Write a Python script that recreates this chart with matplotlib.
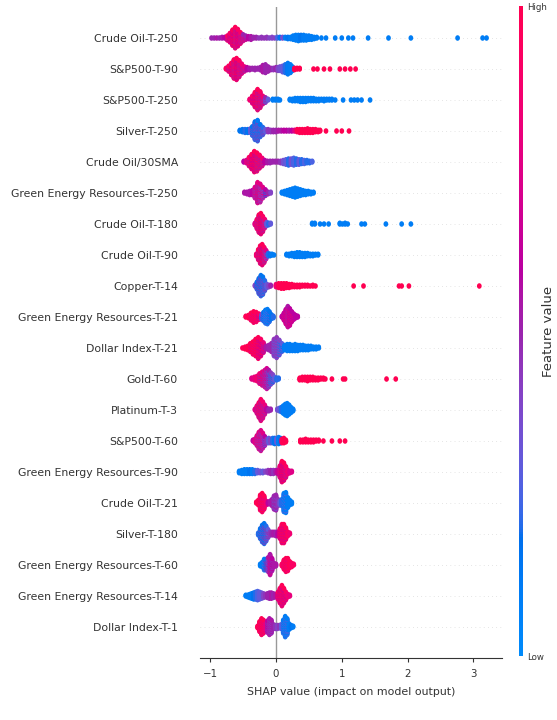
import numpy as np
import matplotlib
matplotlib.use("Agg")
import matplotlib.pyplot as plt
from matplotlib.colors import LinearSegmentedColormap
from matplotlib.path import Path

# ---------------- data (top row first) ----------------
features = ["Crude Oil-T-250", "S&P500-T-90", "S&P500-T-250", "Silver-T-250",
            "Crude Oil/30SMA", "Green Energy Resources-T-250", "Crude Oil-T-180",
            "Crude Oil-T-90", "Copper-T-14", "Green Energy Resources-T-21",
            "Dollar Index-T-21", "Gold-T-60", "Platinum-T-3", "S&P500-T-60",
            "Green Energy Resources-T-90", "Crude Oil-T-21", "Silver-T-180",
            "Green Energy Resources-T-60", "Green Energy Resources-T-14",
            "Dollar Index-T-1"]

x_ticks = [-1, 0, 1, 2, 3]

# each entry: (SHAP value, number of samples, feature value 0=low..1=high)
crude_oil_t250 = [
    (-0.98, 1, .5), (-0.94, 1, .5), (-0.90, 1, .55), (-0.86, 1, .5), (-0.82, 2, .55), (-0.78, 2, .6),
    (-0.74, 4, .92), (-0.74, 3, .55), (-0.70, 8, .92), (-0.70, 6, .6), (-0.66, 14, .97), (-0.66, 10, .6),
    (-0.62, 18, .97), (-0.62, 14, .55), (-0.58, 14, .92), (-0.58, 12, .6), (-0.54, 9, .92), (-0.54, 8, .55),
    (-0.50, 5, .85), (-0.50, 5, .5), (-0.46, 3, .75), (-0.46, 3, .5), (-0.42, 4, .6), (-0.38, 5, .55),
    (-0.34, 2, .5), (-0.30, 2, .5), (-0.26, 1, .45), (-0.22, 2, .45), (-0.18, 1, .45), (-0.14, 2, .45),
    (-0.10, 1, .4), (-0.06, 2, .4), (-0.02, 1, .4),
    (0.02, 2, .25), (0.06, 2, .15), (0.10, 2, .35), (0.14, 2, .1), (0.18, 3, .15), (0.22, 3, .1),
    (0.26, 6, .1), (0.30, 8, .1), (0.34, 9, .1), (0.38, 8, .15), (0.42, 8, .1), (0.46, 7, .1),
    (0.50, 6, .1), (0.54, 5, .1), (0.58, 3, .1), (0.62, 2, .1),
    (0.69, 1, .1), (0.76, 1, .1), (0.90, 1, .1), (1.00, 1, .1), (1.10, 1, .1), (1.17, 1, .1),
    (1.40, 1, .1), (1.71, 1, .1), (2.05, 1, .1), (2.76, 1, .1), (3.14, 1, .1), (3.20, 1, .1)]

sp500_t90 = [
    (-0.76, 2, .92), (-0.72, 5, .92), (-0.72, 3, .55), (-0.68, 10, .97), (-0.68, 7, .6),
    (-0.64, 15, .97), (-0.64, 12, .55), (-0.60, 17, .97), (-0.60, 14, .6), (-0.56, 13, .92), (-0.56, 11, .55),
    (-0.52, 8, .85), (-0.52, 6, .55), (-0.48, 4, .8), (-0.48, 3, .5), (-0.44, 4, .6), (-0.40, 3, .55),
    (-0.36, 2, .5), (-0.32, 3, .5), (-0.28, 2, .5), (-0.24, 4, .5), (-0.20, 10, .55), (-0.16, 12, .5),
    (-0.12, 7, .5), (-0.08, 3, .5), (-0.04, 3, .45), (0.00, 4, .5), (0.03, 5, .4),
    (0.06, 6, .35), (0.10, 9, .3), (0.14, 12, .2), (0.18, 16, .12), (0.22, 12, .1), (0.25, 6, .1),
    (0.28, 3, 1.0), (0.32, 2, 1.0), (0.36, 2, 1.0), (0.57, 1, 1.0), (0.63, 1, 1.0), (0.73, 1, 1.0),
    (0.82, 1, 1.0), (0.97, 1, 1.0), (1.05, 1, 1.0), (1.13, 1, 1.0), (1.21, 1, 1.0)]

sp500_t250 = [
    (-0.40, 2, .85), (-0.36, 6, .92), (-0.36, 4, .6), (-0.32, 12, .97), (-0.32, 8, .6),
    (-0.28, 16, .97), (-0.28, 12, .55), (-0.24, 12, .92), (-0.24, 10, .55), (-0.20, 6, .85), (-0.20, 5, .5),
    (-0.16, 4, .5), (-0.16, 3, .3), (-0.12, 2, .3),
    (-0.05, 2, .1), (-0.01, 2, .1), (0.03, 2, .1), (0.06, 1, .1), (0.21, 2, .1), (0.25, 3, .1),
    (0.29, 4, .1), (0.33, 4, .1), (0.37, 5, .1), (0.41, 5, .1), (0.45, 5, .1), (0.49, 4, .1),
    (0.53, 4, .1), (0.57, 4, .1), (0.61, 3, .1), (0.65, 3, .1), (0.69, 2, .1), (0.73, 3, .1),
    (0.77, 2, .1), (0.81, 2, .1), (0.85, 2, .1), (0.90, 1, .1), (1.02, 1, .1), (1.14, 1, .1),
    (1.19, 1, .1), (1.24, 1, .1), (1.30, 1, .1), (1.43, 1, .1)]

silver_t250 = [
    (-0.55, 2, .15), (-0.51, 4, .15), (-0.47, 5, .2), (-0.43, 5, .15), (-0.39, 6, .3),
    (-0.36, 8, .15), (-0.36, 5, .4), (-0.32, 14, .15), (-0.32, 12, .4), (-0.28, 16, .1), (-0.28, 14, .45),
    (-0.24, 10, .15), (-0.24, 8, .4), (-0.20, 6, .2), (-0.20, 5, .45), (-0.16, 4, .3), (-0.12, 4, .45),
    (-0.08, 3, .45), (-0.04, 3, .5), (0.00, 3, .5),
    (0.04, 2, .55), (0.08, 2, .55), (0.12, 2, .6), (0.16, 2, .6), (0.20, 2, .55), (0.24, 2, .6),
    (0.28, 2, .75), (0.32, 4, 1.0), (0.36, 5, 1.0), (0.40, 5, 1.0), (0.44, 5, 1.0), (0.48, 6, 1.0),
    (0.52, 5, 1.0), (0.56, 5, 1.0), (0.60, 4, 1.0), (0.64, 3, 1.0), (0.67, 2, 1.0),
    (0.76, 1, 1.0), (0.92, 1, 1.0), (1.00, 1, 1.0), (1.11, 1, 1.0)]

crude_oil_30sma = [
    (-0.49, 2, .6), (-0.45, 4, .75), (-0.41, 7, .92), (-0.41, 5, .55), (-0.37, 12, .97), (-0.37, 8, .6),
    (-0.33, 16, .97), (-0.33, 12, .6), (-0.29, 14, .97), (-0.29, 11, .55), (-0.25, 10, .92), (-0.25, 8, .55),
    (-0.21, 6, .85), (-0.21, 5, .5), (-0.17, 4, .6), (-0.13, 3, .55), (-0.09, 3, .5), (-0.05, 2, .5),
    (-0.01, 2, .5), (0.03, 2, .5), (0.07, 3, .45),
    (0.11, 5, .35), (0.15, 7, .3), (0.19, 9, .2), (0.23, 8, .35), (0.27, 10, .25), (0.31, 8, .2),
    (0.35, 7, .3), (0.39, 6, .2), (0.43, 5, .25), (0.47, 4, .2), (0.51, 3, .2), (0.55, 2, .25)]

ger_t250 = [
    (-0.48, 2, .55), (-0.44, 3, .55), (-0.40, 5, .55), (-0.36, 6, .6), (-0.32, 8, .75), (-0.32, 6, .45),
    (-0.28, 14, .8), (-0.28, 12, .5), (-0.24, 13, .75), (-0.24, 10, .4), (-0.20, 8, .75), (-0.20, 6, .3),
    (-0.16, 5, .6), (-0.16, 3, .2), (-0.12, 3, .5), (-0.08, 2, .4),
    (0.09, 2, .1), (0.13, 4, .1), (0.17, 6, .1), (0.21, 8, .1), (0.25, 10, .1), (0.29, 12, .1),
    (0.33, 10, .1), (0.37, 8, .1), (0.41, 6, .1), (0.45, 5, .1), (0.49, 4, .1), (0.53, 3, .1),
    (0.57, 2, .1)]

crude_oil_t180 = [
    (-0.32, 3, .75), (-0.29, 8, .92), (-0.29, 5, .55), (-0.26, 14, .97), (-0.26, 10, .55),
    (-0.23, 16, .97), (-0.23, 12, .6), (-0.20, 12, .92), (-0.20, 9, .55), (-0.17, 7, .85), (-0.17, 5, .45),
    (-0.14, 5, .3), (-0.11, 3, .2), (-0.08, 2, .3),
    (0.55, 2, .1), (0.59, 2, .1), (0.67, 1, .1), (0.73, 1, .1), (0.80, 1, .1), (0.97, 2, .1),
    (1.01, 1, .1), (1.05, 2, .1), (1.09, 1, .1), (1.30, 1, .1), (1.35, 1, .1), (1.67, 1, .1),
    (1.91, 1, .1), (2.05, 1, .1)]

crude_oil_t90 = [
    (-0.30, 3, .85), (-0.27, 8, .97), (-0.27, 6, .55), (-0.24, 14, .97), (-0.24, 10, .55),
    (-0.21, 16, .97), (-0.21, 12, .6), (-0.18, 12, .92), (-0.18, 9, .5), (-0.15, 7, .75), (-0.15, 5, .3),
    (-0.12, 4, .2), (-0.09, 3, .15), (-0.06, 2, .1), (-0.03, 1, .1),
    (0.16, 2, .1), (0.20, 3, .1), (0.24, 4, .1), (0.28, 5, .1), (0.32, 6, .1), (0.36, 6, .1),
    (0.40, 5, .1), (0.44, 5, .1), (0.48, 4, .1), (0.52, 3, .1), (0.56, 3, .1), (0.60, 2, .1),
    (0.64, 2, .1)]

copper_t14 = [
    (-0.32, 2, .4), (-0.29, 6, .15), (-0.29, 4, .45), (-0.26, 12, .15), (-0.26, 9, .45),
    (-0.23, 15, .15), (-0.23, 13, .45), (-0.20, 13, .15), (-0.20, 11, .4), (-0.17, 8, .2), (-0.17, 6, .45),
    (-0.14, 5, .3), (-0.11, 3, .4), (-0.08, 2, .5),
    (0.00, 4, .85), (0.04, 6, 1.0), (0.08, 7, 1.0), (0.12, 7, 1.0), (0.16, 6, 1.0), (0.20, 5, 1.0),
    (0.24, 4, 1.0), (0.28, 3, 1.0), (0.32, 3, 1.0), (0.36, 3, 1.0), (0.40, 2, 1.0), (0.44, 2, 1.0),
    (0.48, 2, 1.0), (0.52, 1, 1.0), (0.56, 2, 1.0), (0.60, 1, 1.0),
    (1.18, 1, 1.0), (1.33, 1, 1.0), (1.87, 1, 1.0), (1.91, 1, 1.0), (2.02, 1, 1.0), (3.09, 1, 1.0)]

ger_t21 = [
    (-0.46, 2, .97), (-0.42, 4, 1.0), (-0.38, 7, 1.0), (-0.38, 3, .75), (-0.34, 10, 1.0), (-0.34, 5, .75),
    (-0.30, 9, .97), (-0.30, 4, .75), (-0.26, 5, .92), (-0.26, 3, .6), (-0.22, 4, .4), (-0.22, 3, .15),
    (-0.19, 8, .15), (-0.19, 4, .3), (-0.16, 12, .1), (-0.16, 6, .3), (-0.13, 14, .1), (-0.13, 6, .3),
    (-0.10, 10, .15), (-0.10, 4, .3), (-0.07, 6, .15), (-0.04, 3, .2),
    (0.09, 2, .6), (0.12, 6, .6), (0.12, 4, .8), (0.15, 12, .6), (0.15, 8, .8), (0.18, 16, .55),
    (0.18, 12, .8), (0.21, 13, .6), (0.21, 10, .8), (0.24, 8, .6), (0.24, 6, .8), (0.27, 5, .6),
    (0.27, 3, .75), (0.30, 4, .6), (0.33, 2, .6)]

dollar_index_t21 = [
    (-0.51, 1, .97), (-0.47, 3, 1.0), (-0.43, 5, 1.0), (-0.39, 7, 1.0), (-0.39, 3, .75), (-0.35, 10, 1.0),
    (-0.35, 5, .75), (-0.31, 13, 1.0), (-0.31, 7, .75), (-0.27, 15, .97), (-0.27, 10, .65), (-0.23, 12, .92),
    (-0.23, 8, .6), (-0.19, 7, .8), (-0.19, 5, .55), (-0.15, 4, .55), (-0.11, 6, .5), (-0.07, 10, .5),
    (-0.03, 14, .45), (-0.03, 6, .3), (0.01, 16, .45), (0.01, 8, .3), (0.05, 12, .4), (0.05, 6, .2),
    (0.09, 6, .3), (0.09, 4, .15),
    (0.13, 6, .1), (0.17, 8, .1), (0.21, 8, .1), (0.25, 7, .1), (0.29, 8, .1), (0.33, 7, .1),
    (0.37, 6, .1), (0.41, 6, .1), (0.45, 5, .1), (0.49, 5, .1), (0.53, 4, .1), (0.57, 3, .1),
    (0.61, 3, .1), (0.65, 2, .1)]

gold_t60 = [
    (-0.37, 2, .75), (-0.33, 4, .8), (-0.29, 6, .85), (-0.25, 8, .85), (-0.25, 4, .5), (-0.21, 10, .8),
    (-0.21, 6, .5), (-0.17, 12, .75), (-0.17, 8, .45), (-0.14, 14, .7), (-0.14, 10, .4), (-0.11, 12, .55),
    (-0.11, 8, .3), (-0.08, 8, .45), (-0.08, 6, .2), (-0.05, 6, .4), (-0.05, 4, .15), (-0.02, 4, .3),
    (0.01, 3, .2), (0.04, 2, .2),
    (0.36, 3, 1.0), (0.40, 4, 1.0), (0.44, 4, 1.0), (0.48, 5, 1.0), (0.52, 4, 1.0), (0.56, 4, 1.0),
    (0.60, 3, 1.0), (0.64, 3, 1.0), (0.68, 2, 1.0), (0.72, 2, 1.0), (0.75, 1, 1.0),
    (0.85, 1, 1.0), (1.02, 1, 1.0), (1.05, 1, 1.0), (1.68, 1, 1.0), (1.82, 1, 1.0)]

platinum_t3 = [
    (-0.32, 2, .75), (-0.29, 6, .85), (-0.29, 4, .55), (-0.26, 11, .92), (-0.26, 8, .55),
    (-0.23, 15, .92), (-0.23, 12, .55), (-0.20, 12, .85), (-0.20, 9, .55), (-0.17, 7, .8), (-0.17, 5, .5),
    (-0.14, 4, .6), (-0.11, 3, .5), (-0.08, 2, .5),
    (0.02, 2, .35), (0.05, 4, .3), (0.08, 6, .2), (0.11, 10, .1), (0.14, 14, .1), (0.17, 16, .1),
    (0.20, 12, .1), (0.23, 7, .1), (0.26, 3, .1)]

sp500_t60 = [
    (-0.35, 2, .6), (-0.32, 5, .75), (-0.29, 8, .8), (-0.29, 4, .45), (-0.26, 12, .8), (-0.26, 8, .45),
    (-0.23, 14, .75), (-0.23, 10, .45), (-0.20, 10, .75), (-0.20, 8, .4), (-0.17, 6, .6), (-0.17, 5, .3),
    (-0.14, 5, .45), (-0.11, 6, .3), (-0.08, 5, .4), (-0.05, 6, .2), (-0.02, 7, .15), (0.01, 6, .3),
    (0.04, 8, .1), (0.07, 6, .15), (0.09, 5, .97), (0.12, 6, 1.0), (0.15, 3, 1.0),
    (0.37, 3, 1.0), (0.41, 3, 1.0), (0.45, 4, 1.0), (0.49, 3, 1.0), (0.53, 3, 1.0), (0.57, 3, 1.0),
    (0.61, 2, 1.0), (0.65, 2, 1.0), (0.72, 1, 1.0), (0.85, 1, 1.0), (0.97, 1, 1.0), (1.05, 1, 1.0)]

ger_t90 = [
    (-0.56, 3, .1), (-0.52, 5, .1), (-0.48, 6, .1), (-0.44, 6, .1), (-0.40, 6, .15), (-0.36, 6, .1),
    (-0.32, 5, .2), (-0.28, 4, .3), (-0.24, 3, .35), (-0.20, 3, .3), (-0.16, 2, .4), (-0.12, 4, .45),
    (-0.08, 5, .5), (-0.04, 5, .45), (0.00, 4, .55), (0.03, 5, .65),
    (0.06, 10, .85), (0.06, 6, .55), (0.09, 16, .97), (0.09, 12, .6), (0.12, 14, .97), (0.12, 10, .6),
    (0.15, 9, .92), (0.15, 6, .55), (0.18, 5, .85), (0.21, 3, .75), (0.24, 2, .75)]

crude_oil_t21 = [
    (-0.30, 2, .97), (-0.27, 6, 1.0), (-0.24, 12, 1.0), (-0.24, 6, .8), (-0.21, 14, 1.0), (-0.21, 8, .75),
    (-0.18, 10, .97), (-0.18, 6, .75), (-0.15, 5, .85), (-0.12, 3, .6), (-0.09, 4, .55), (-0.06, 8, .55),
    (-0.03, 12, .5), (-0.03, 4, .35), (0.00, 14, .5), (0.00, 4, .35), (0.03, 8, .45), (0.06, 5, .3),
    (0.09, 8, .2), (0.12, 16, .1), (0.12, 6, .3), (0.15, 18, .1), (0.15, 6, .3), (0.18, 12, .1),
    (0.21, 6, .1), (0.24, 3, .1)]

silver_t180 = [
    (-0.27, 3, .2), (-0.24, 8, .15), (-0.24, 4, .4), (-0.21, 12, .15), (-0.21, 8, .4), (-0.18, 14, .15),
    (-0.18, 10, .45), (-0.15, 10, .2), (-0.15, 8, .45), (-0.12, 6, .3), (-0.12, 4, .5), (-0.09, 4, .45),
    (-0.06, 4, .5), (-0.03, 4, .55), (0.00, 5, .5), (0.03, 5, .6),
    (0.06, 8, .92), (0.06, 4, .6), (0.09, 14, .97), (0.09, 8, .65), (0.12, 14, .97), (0.12, 8, .65),
    (0.15, 9, .97), (0.15, 5, .65), (0.18, 5, .92), (0.21, 2, .85)]

ger_t60 = [
    (-0.24, 3, .1), (-0.21, 6, .1), (-0.18, 10, .1), (-0.18, 4, .35), (-0.15, 8, .15), (-0.15, 6, .5),
    (-0.12, 10, .55), (-0.12, 8, .3), (-0.09, 16, .55), (-0.09, 10, .75), (-0.06, 10, .6), (-0.06, 6, .45),
    (-0.03, 5, .55), (0.00, 3, .55),
    (0.09, 3, .92), (0.12, 8, .97), (0.12, 4, .75), (0.15, 12, 1.0), (0.15, 5, .75), (0.18, 12, .97),
    (0.18, 4, .75), (0.21, 8, .97), (0.24, 5, .92), (0.27, 2, .92)]

ger_t14 = [
    (-0.46, 2, .1), (-0.43, 3, .1), (-0.40, 5, .1), (-0.37, 7, .1), (-0.34, 9, .15), (-0.31, 10, .2),
    (-0.28, 12, .25), (-0.25, 10, .3), (-0.22, 8, .3), (-0.19, 6, .4), (-0.16, 4, .45), (-0.13, 6, .5),
    (-0.10, 8, .5), (-0.07, 8, .55), (-0.04, 6, .5), (-0.01, 4, .55),
    (0.03, 6, .92), (0.03, 4, .6), (0.06, 12, .97), (0.06, 8, .6), (0.09, 16, .97), (0.09, 12, .65),
    (0.12, 12, .97), (0.12, 8, .6), (0.15, 7, .92), (0.15, 4, .6), (0.18, 4, .85), (0.21, 2, .8)]

dollar_index_t1 = [
    (-0.28, 3, .97), (-0.25, 10, 1.0), (-0.25, 4, .8), (-0.22, 14, 1.0), (-0.22, 8, .8), (-0.19, 12, .97),
    (-0.19, 6, .75), (-0.16, 8, .8), (-0.13, 10, .6), (-0.13, 6, .45), (-0.10, 14, .55), (-0.10, 8, .45),
    (-0.07, 12, .55), (-0.07, 6, .4), (-0.04, 6, .5), (-0.01, 5, .45), (0.02, 5, .4), (0.05, 4, .45),
    (0.08, 6, .3),
    (0.11, 12, .1), (0.11, 6, .3), (0.14, 18, .1), (0.14, 10, .25), (0.17, 14, .1), (0.17, 8, .3),
    (0.20, 8, .1), (0.23, 4, .15), (0.26, 2, .1)]

rows = [crude_oil_t250, sp500_t90, sp500_t250, silver_t250, crude_oil_30sma, ger_t250,
        crude_oil_t180, crude_oil_t90, copper_t14, ger_t21, dollar_index_t21, gold_t60,
        platinum_t3, sp500_t60, ger_t90, crude_oil_t21, silver_t180, ger_t60, ger_t14,
        dollar_index_t1]


# ---------------- shap red_blue colormap ----------------
def lch_to_rgb(l, c, h):
    a, b = c * np.cos(h), c * np.sin(h)
    fy = (l + 16) / 116.0
    fx, fz = fy + a / 500.0, fy - b / 200.0

    def finv(t):
        return t ** 3 if t > 6 / 29 else (t - 16 / 116) / 7.787

    xyz = np.array([0.95047 * finv(fx), finv(fy), 1.08883 * finv(fz)])
    m = np.array([[3.24048134, -1.53715152, -0.49853633],
                  [-0.96925495, 1.87599, 0.04155593],
                  [0.05564664, -0.20404134, 1.05731107]])
    rgb = m @ xyz
    rgb = np.where(rgb > 0.0031308,
                   1.055 * np.power(np.clip(rgb, 0.0031308, None), 1 / 2.4) - 0.055,
                   12.92 * rgb)
    return np.clip(rgb, 0, 1)


nsteps = 100
l_vals = list(np.linspace(54., 40., nsteps // 2)) + list(np.linspace(40., 54., nsteps // 2))
c_vals = np.linspace(70., 90., nsteps)
h_vals = np.linspace(4.6588, 0.35470565 + 2 * np.pi, nsteps)
red_blue = LinearSegmentedColormap.from_list(
    "red_blue", [lch_to_rgb(l, c, h) for l, c, h in zip(l_vals, c_vals, h_vals)])


# ---------------- beeswarm layout ----------------
def swarm(groups, row_height=0.4):
    columns = {}
    for v, n, c in groups:
        columns.setdefault(round(v, 6), []).append((n, c))
    xs, ys, cs = [], [], []
    for v, lst in columns.items():
        total = sum(n for n, _ in lst)
        layers = np.arange(total)
        offs = np.sort(np.ceil(layers / 2) * ((layers % 2) * 2 - 1))
        pts = []
        for gi, (n, c) in enumerate(lst):
            for k in range(n):
                pts.append(((k + 0.5) / n, gi, c))
        pts.sort()
        for off, (_, _, c) in zip(offs, pts):
            xs.append(v)
            ys.append(off)
            cs.append(c)
    ys = np.array(ys, dtype=float)
    ys *= 0.9 * (row_height / np.max(ys + 1))
    return np.array(xs), ys, np.array(cs)


font = "DejaVu Sans"
text_color = "#333333"

# ---------------- figure ----------------
W, H = 557, 720
fig = plt.figure(figsize=(W / 100, H / 100), dpi=100)
ax = fig.add_axes([200 / W, 1 - 658 / H, 302 / W, 651 / H])

ell = Path.unit_circle()
ell = Path(ell.vertices * np.array([0.85, 1.0]), ell.codes)

nrows = len(features)
for i, groups in enumerate(rows):
    pos = nrows - 1 - i
    ax.axhline(y=pos, color="#cccccc", lw=0.5, dashes=(1, 5), zorder=-1)
    xs, ys, cs = swarm(groups)
    ax.scatter(xs, pos + ys, c=cs, cmap=red_blue, vmin=0, vmax=1, s=16,
               marker=ell, linewidths=0, alpha=1, zorder=3, rasterized=True)

ax.axvline(x=0, color="#999999", lw=1, zorder=-1)
ax.set_xlim(-1.155, 3.435)
ax.set_ylim(-1, nrows)

ax.set_yticks(range(nrows))
ax.set_yticklabels(features[::-1], family=font, fontsize=7.8, color=text_color)
ax.tick_params(axis="y", length=0, pad=15.8)
ax.set_xticks(x_ticks)
ax.set_xticklabels([f"\u2212{abs(t)}" if t < 0 else str(t) for t in x_ticks],
                   family=font, fontsize=7.4, color=text_color)
ax.tick_params(axis="x", length=3, width=0.8, color=text_color, pad=5)
ax.set_xlabel("SHAP value (impact on model output)", family=font,
              fontsize=7.9, color=text_color, labelpad=5.5)
for s in ("top", "right", "left"):
    ax.spines[s].set_visible(False)
ax.spines["bottom"].set_color(text_color)
ax.spines["bottom"].set_linewidth(0.8)

# colour bar
cax = fig.add_axes([519 / W, 1 - 656 / H, 3.5 / W, 650 / H])
sm = plt.cm.ScalarMappable(cmap=red_blue, norm=plt.Normalize(0, 1))
cb = fig.colorbar(sm, cax=cax, ticks=[0, 1])
cb.set_ticklabels(["Low", "High"])
for t in cb.ax.get_yticklabels():
    t.set_family(font)
    t.set_fontsize(6.2)
    t.set_color(text_color)
cb.ax.tick_params(length=0, pad=3)
cb.outline.set_visible(False)
cb.set_label("Feature value", size=9.5, color=text_color, family=font)
cb.ax.yaxis.set_label_coords(6.7, 0.5)

fig.savefig("out.png", dpi=100)
